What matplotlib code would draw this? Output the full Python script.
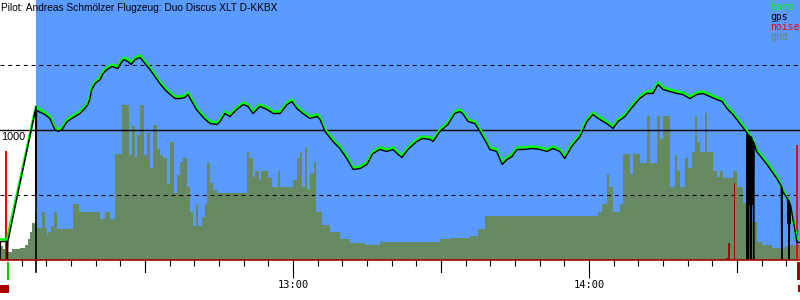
import matplotlib
matplotlib.use('Agg')
import matplotlib.pyplot as plt
from matplotlib.patches import Rectangle

title = "Pilot: Andreas Schmölzer Flugzeug: Duo Discus XLT D-KKBX"

# time in minutes after 12:00, altitude in metres
baro_time = [0.6, 2.0, 4.7, 7.3, 7.9, 9.7, 10.7, 11.7, 12.4, 13.2, 14.2, 15.8, 16.8, 17.8, 18.4,
             18.8, 19.2, 19.9, 20.9, 21.5, 22.3, 23.3, 24.5, 24.9, 25.7, 26.5, 27.2, 28.0, 29.0,
             30.0, 31.0, 32.0, 33.0, 34.0, 35.1, 36.1, 37.1, 38.1, 38.7, 39.5, 40.3, 41.1, 42.2,
             43.2, 44.6, 45.2, 46.2, 47.2, 48.6, 49.9, 50.9, 51.9, 53.3, 54.7, 56.0, 57.4, 58.8,
             59.8, 60.8, 62.0, 63.4, 64.9, 65.5, 66.5, 68.1, 69.5, 70.9, 72.2, 73.6, 75.0, 76.2,
             77.6, 79.0, 80.3, 81.3, 82.1, 83.3, 85.1, 86.3, 87.8, 88.4, 89.8, 91.4, 92.8, 93.8,
             94.4, 95.5, 96.9, 97.9, 99.3, 99.9, 101.3, 102.4, 103.4, 104.4, 105.4, 106.6, 108.6,
             110.1, 111.5, 112.7, 114.1, 115.1, 116.5, 118.2, 119.6, 120.8, 122.2, 123.6, 124.9,
             125.9, 127.3, 128.9, 130.3, 131.7, 133.0, 134.0, 135.0, 136.4, 137.8, 139.0, 140.5,
             141.9, 143.1, 144.5, 145.9, 147.0, 148.0, 149.2, 150.6, 152.0, 153.2, 154.0, 156.1,
             158.1, 159.3, 160.7, 161.8, 162.2, 162.8]
baro_alt = [158, 158, 619, 1080, 1180, 1134, 1104, 1019, 1004, 1019, 1080, 1119, 1142, 1180, 1211,
            1250, 1327, 1373, 1403, 1450, 1480, 1503, 1488, 1519, 1557, 1542, 1519, 1557, 1573,
            1526, 1480, 1426, 1373, 1327, 1288, 1257, 1257, 1265, 1288, 1234, 1180, 1142, 1096,
            1065, 1057, 1080, 1142, 1119, 1173, 1211, 1196, 1142, 1196, 1173, 1142, 1142, 1211,
            1234, 1180, 1142, 1104, 1119, 1096, 1004, 927, 873, 796, 711, 719, 750, 834,
            865, 850, 865, 827, 804, 865, 927, 950, 942, 927, 1004, 1057, 1142, 1157,
            1142, 1080, 1065, 1004, 911, 865, 850, 750, 788, 811, 865, 865, 873,
            865, 850, 873, 850, 796, 888, 965, 1080, 1134, 1096, 1065, 1027,
            1080, 1119, 1196, 1257, 1296, 1296, 1365, 1327, 1311, 1296, 1288, 1257,
            1288, 1296, 1273, 1250, 1234, 1180, 1134, 1065, 996, 927, 850, 750,
            642, 542, 442, 235, 158, 173]

gps_time = [0.6, 0.7, 2.0, 2.1, 2.2, 4.7, 7.3, 7.8, 7.9, 8.0, 9.7, 10.7, 11.7, 12.4, 13.2, 14.2,
            15.8, 16.8, 17.8, 18.4, 18.8, 19.2, 19.9, 20.9, 21.5, 22.3, 23.3, 24.5, 24.9, 25.7,
            26.5, 27.2, 28.0, 29.0, 30.0, 31.0, 32.0, 33.0, 34.0, 35.1, 36.1, 37.1, 38.1, 38.7,
            39.5, 40.3, 41.1, 42.2, 43.2, 44.6, 45.2, 46.2, 47.2, 48.6, 49.9, 50.9, 51.9, 53.3,
            54.7, 56.0, 57.4, 58.8, 59.8, 60.8, 62.0, 63.4, 64.9, 65.5, 66.5, 68.1, 69.5, 70.9,
            72.2, 73.6, 75.0, 76.2, 77.6, 79.0, 80.3, 81.3, 82.1, 83.3, 85.1, 86.3, 87.8, 88.4,
            89.8, 91.4, 92.8, 93.8, 94.4, 95.5, 96.9, 97.9, 99.3, 99.9, 101.3, 102.4, 103.4,
            104.4, 105.4, 106.6, 108.6, 110.1, 111.5, 112.7, 114.1, 115.1, 116.5, 118.2, 119.6,
            120.8, 122.2, 123.6, 124.9, 125.9, 127.3, 128.9, 130.3, 131.7, 133.0, 134.0, 135.0,
            136.4, 137.8, 139.0, 140.5, 141.9, 143.1, 144.5, 145.9, 147.0, 148.0, 149.2, 150.6,
            152.0, 152.05, 152.2, 152.4, 152.5, 152.6, 152.8, 152.9, 153.0, 153.1, 153.3, 153.4,
            153.5, 154.0, 156.1, 158.1, 159.0, 159.1, 159.2, 159.3, 160.3, 160.4, 160.5, 160.6,
            160.7, 160.8, 160.9, 161.8, 162.2, 162.8]
gps_alt = [0, 142, 142, 0, 142, 600, 1065, 1160, 500, 1150, 1119, 1089, 1004, 989, 1004, 1065,
           1104, 1127, 1165, 1196, 1235, 1312, 1358, 1388, 1435, 1465, 1488, 1473, 1504, 1542,
           1527, 1504, 1542, 1558, 1511, 1465, 1411, 1358, 1312, 1273, 1242, 1242, 1250, 1273,
           1219, 1165, 1127, 1081, 1050, 1042, 1065, 1127, 1104, 1158, 1196, 1181, 1127, 1181,
           1158, 1127, 1127, 1196, 1219, 1165, 1127, 1089, 1104, 1081, 989, 912, 858, 781,
           696, 704, 735, 819, 850, 835, 850, 812, 789, 850, 912, 935, 927, 912,
           989, 1042, 1127, 1142, 1127, 1065, 1050, 989, 896, 850, 835, 735, 773,
           796, 850, 850, 858, 850, 835, 858, 835, 781, 873, 950, 1065,
           1119, 1081, 1050, 1012, 1065, 1104, 1181, 1242, 1281, 1281, 1350, 1312,
           1296, 1281, 1273, 1242, 1273, 1281, 1258, 1235, 1219, 1165, 1119, 1050,
           981, 0, 975, 0, 960, 430, 950, 0, 940, 430, 915, 0,
           900, 835, 735, 627, 570, 0, 555, 527, 470, 280, 460, 0,
           440, 280, 420, 220, 135, 135]

gnd_time = [0.6, 1.2, 2.0, 3.0, 4.7, 5.7, 6.3, 6.7, 7.1, 7.7, 8.1, 9.1, 9.7, 10.1, 10.3, 10.9,
            11.5, 12.2, 15.4, 16.6, 20.9, 21.9, 22.9, 23.9, 25.3, 26.7, 27.4, 28.0, 28.4, 29.0,
            29.8, 30.4, 31.0, 31.6, 32.4, 33.0, 33.6, 34.4, 35.1, 35.9, 36.5, 37.1, 37.7, 38.5,
            39.1, 39.7, 40.3, 40.7, 41.5, 42.2, 42.6, 43.2, 43.8, 44.6, 50.7, 51.1, 51.9, 52.3,
            53.1, 53.5, 54.9, 55.7, 57.0, 57.4, 60.0, 60.8, 61.4, 61.8, 62.4, 62.8, 63.4, 64.2,
            64.7, 65.9, 67.5, 69.5, 71.5, 74.6, 77.6, 81.7, 89.8, 91.8, 95.9, 97.5, 98.9, 121.8,
            122.6, 123.6, 124.0, 124.9, 126.3, 126.9, 128.3, 128.9, 130.3, 131.7, 132.4, 133.8,
            134.4, 135.0, 136.4, 137.4, 137.8, 138.4, 139.4, 140.0, 140.9, 141.5, 141.9, 142.5,
            143.5, 143.9, 145.1, 145.9, 146.5, 147.1, 149.2, 150.0, 151.2, 152.0, 154.0, 155.0,
            157.1, 158.7, 159.7, 160.3, 162.8]
gnd_alt = [104, 81, 65, 81, 96, 119, 158, 219, 288, 373, 250, 373, 250, 181, 219, 258,
           373, 235, 434, 373, 319, 373, 319, 819, 1196, 811, 1027, 796, 965, 1196,
           811, 980, 711, 1042, 857, 811, 788, 581, 904, 519, 657, 757, 788, 565,
           373, 258, 427, 258, 327, 427, 750, 596, 542, 519, 827, 788, 642, 688,
           619, 688, 634, 558, 688, 558, 619, 788, 827, 558, 873, 542, 673, 757,
           373, 273, 219, 158, 127, 119, 135, 142, 158, 173, 188, 235, 342, 373,
           434, 665, 558, 373, 434, 819, 665, 819, 750, 1111, 750, 1111,
           927, 1111, 565, 804, 681, 565, 788, 711, 827, 1111, 904, 827,
           1134, 827, 688, 642, 688, 634, 688, 565, 442, 296, 142, 119,
           96, 81, 104, 119, 119]

noise_time = [1.8, 148.0, 148.4, 149.5, 162.2]
noise_val = [835, 19, 127, 596, 888]
release_time = 7.9
release_alt = 1180
ref_levels = [500, 1000, 1500]
hour_ticks = [60, 120]
hour_labels = ["13:00", "14:00"]
half_hour_ticks = [30, 90, 150]
legend_items = ["baro", "gps", "noise", "gnd"]

BLUE = '#5a9bff'
GND = '#678a63'
DARKRED = '#aa0000'
legend_colors = ['#00ff00', '#000000', '#ff0000', GND]
noise_colors = ['#ff0000', DARKRED, DARKRED, DARKRED, '#ff0000']

W, H = 800, 300
fig = plt.figure(figsize=(8, 3), dpi=100)
ax = fig.add_axes([0, 40 / H, 1, 260 / H])
ax.set_xlim(0.6, 162.8)
ax.set_ylim(0, 2000)
ax.set_facecolor('white')

ax.axvspan(release_time, 162.8, color=BLUE, zorder=0, lw=0)
ax.fill_between(gnd_time, gnd_alt, 0, step='post', color=GND, lw=0, zorder=1)

for lv in ref_levels:
    if lv == 1000:
        ax.axhline(lv, color='black', lw=1.0, zorder=2)
    else:
        ax.axhline(lv, color='black', lw=0.8, dashes=(3.5, 3.5), zorder=2)

ax.bar(noise_time, noise_val, width=0.3, color=noise_colors, lw=0, zorder=3)

ax.plot(baro_time, baro_alt, color='#00ff00', lw=1.8, zorder=4)
ax.plot(gps_time, gps_alt, color='black', lw=1.0, zorder=5)

# release marker
ax.plot([release_time, release_time], [-96, release_alt], color='black', lw=1.2,
        zorder=5, clip_on=False)

ax.text(0.9, 985, "1000", fontsize=7.8, family='Liberation Sans', va='top', ha='left', zorder=6)

for s in ['top', 'left', 'right']:
    ax.spines[s].set_visible(False)
ax.spines['bottom'].set_color(DARKRED)
ax.spines['bottom'].set_linewidth(1.2)
ax.spines['bottom'].set_zorder(6)
ax.set_yticks([])
ax.set_xticks(hour_ticks)
ax.set_xticklabels(hour_labels, family='DejaVu Sans Mono', fontsize=7.5)
ax.set_xticks([m for m in range(5, 163, 5) if m not in hour_ticks], minor=True)
ax.tick_params(axis='x', which='major', length=13, width=0.8, color='black', pad=1.5)
ax.tick_params(axis='x', which='minor', length=4.3, width=0.8, color='black')
for t in half_hour_ticks:
    ax.plot([t, t], [0, -12 / 260], transform=ax.get_xaxis_transform(), color='black',
            lw=0.8, clip_on=False, zorder=6)

fig.text(1 / W, 1 - 8 / H, title, fontsize=7.3, family='Liberation Sans', va='center', ha='left')
for i, (lab, c) in enumerate(zip(legend_items, legend_colors)):
    fig.text(770 / W, 1 - (7 + 10 * i) / H, lab, color=c, fontsize=7,
             family='DejaVu Sans Mono', va='center', ha='left')

# phase indicator marks below the axis
fig.patches.append(Rectangle((7 / W, 20 / H), 2 / W, 18 / H, transform=fig.transFigure,
                             color='#00cc00', lw=0))
fig.patches.append(Rectangle((0, 7 / H), 9 / W, 8 / H, transform=fig.transFigure,
                             color=DARKRED, lw=0))
fig.patches.append(Rectangle((797 / W, 20 / H), 3 / W, 18 / H, transform=fig.transFigure,
                             color=DARKRED, lw=0))
fig.patches.append(Rectangle((798 / W, 8 / H), 2 / W, 7 / H, transform=fig.transFigure,
                             color=DARKRED, lw=0))

fig.savefig('out.png', dpi=100)
